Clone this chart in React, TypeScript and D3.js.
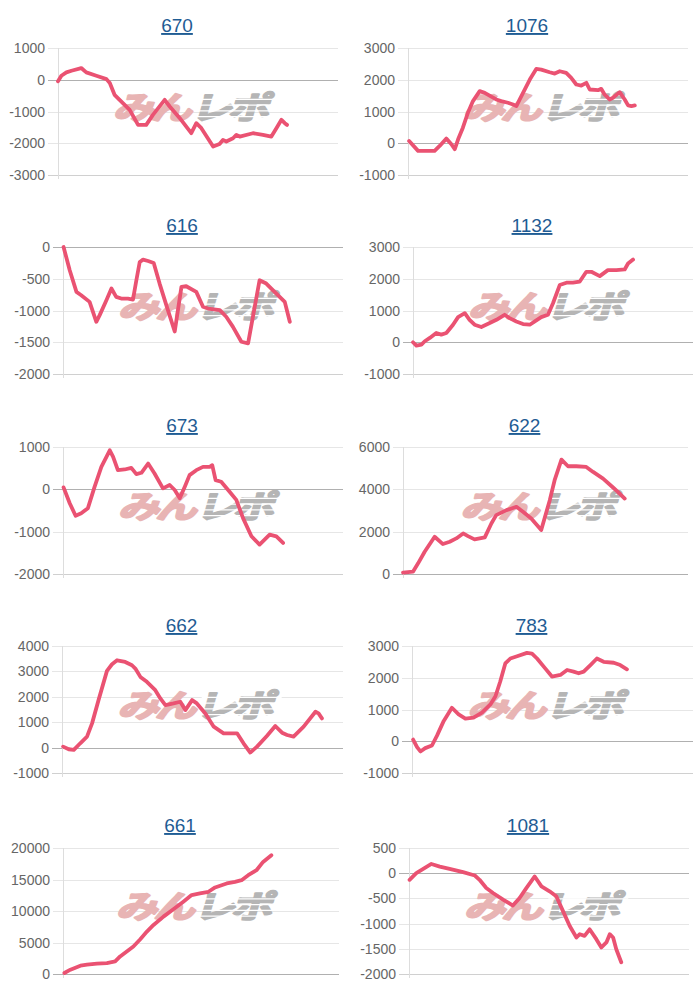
import React from 'react';
import * as d3 from 'd3';

// ---- data ----
const titles = ['670', '1076', '616', '1132', '673', '622', '662', '783', '661', '1081'];

const x670 = [0, 1.2, 3.0, 4.8, 8.3, 10.1, 13.7, 17.3, 18.5, 20.2, 22.0, 25.6, 28.6, 31.5, 33.9, 38.1, 39.9, 43.5, 47.6, 49.4, 51.2, 55.4, 57.7, 58.9, 60.1, 62.5, 63.7, 64.9, 69.6, 73.2, 76.2, 78.0, 79.8, 81.0, 81.8];
const v670 = [-50, 126, 232, 284, 368, 232, 126, 20, -105, -474, -632, -947, -1421, -1421, -1105, -632, -842, -1210, -1684, -1368, -1526, -2105, -2021, -1895, -1947, -1842, -1737, -1789, -1684, -1737, -1789, -1526, -1263, -1368, -1421];

const x1076 = [0.4, 3.6, 9.5, 11.3, 13.7, 15.5, 16.7, 17.9, 19.6, 21.4, 23.2, 25.6, 27.4, 31.5, 33.3, 35.7, 37.5, 38.7, 39.9, 43.5, 45.8, 47.6, 50.6, 52.4, 54.2, 56.5, 58.3, 60.1, 61.9, 63.7, 64.9, 67.9, 69.0, 70.2, 72.0, 73.2, 75.6, 77.4, 78.6, 79.8, 81.0];
const v1076 = [73, -240, -240, -84, 146, -31, -188, 125, 491, 961, 1327, 1641, 1588, 1379, 1327, 1275, 1222, 1170, 1379, 2006, 2341, 2320, 2236, 2194, 2268, 2215, 2059, 1850, 1818, 1902, 1693, 1672, 1714, 1536, 1379, 1432, 1609, 1379, 1191, 1170, 1191];

const x616 = [0.2, 2.4, 4.8, 6.5, 9.5, 11.9, 13.1, 15.5, 17.3, 19.0, 20.8, 23.2, 25.0, 26.2, 27.4, 28.6, 30.4, 32.4, 34.5, 36.9, 39.9, 42.3, 44.0, 47.6, 50.0, 51.8, 56.0, 58.3, 60.7, 63.7, 66.1, 70.2, 72.6, 76.2, 79.2, 81.0];
const v616 = [0, -366, -707, -759, -864, -1178, -1073, -838, -654, -785, -812, -812, -827, -524, -236, -199, -220, -251, -576, -916, -1330, -628, -618, -707, -942, -969, -995, -1099, -1257, -1492, -1518, -524, -576, -733, -864, -1178];

const x1132 = [0, 1.2, 3.0, 4.2, 6.0, 8.3, 10.1, 11.9, 14.3, 16.1, 18.5, 20.2, 22.0, 24.4, 27.4, 29.8, 32.7, 34.5, 36.9, 39.3, 41.7, 43.5, 45.8, 48.2, 50.0, 52.4, 54.8, 57.1, 59.5, 61.9, 63.7, 66.7, 69.6, 72.6, 75.6, 76.8, 78.6];
const v1132 = [0, -104, -73, 31, 135, 292, 240, 292, 552, 792, 917, 708, 552, 479, 604, 708, 865, 760, 656, 573, 552, 656, 792, 865, 1229, 1802, 1875, 1875, 1906, 2219, 2219, 2083, 2271, 2271, 2292, 2479, 2604];

const x673 = [0.2, 2.4, 4.5, 6.5, 8.9, 11.3, 13.7, 16.7, 17.9, 19.6, 22.0, 24.4, 26.2, 28.0, 30.4, 32.7, 35.7, 38.1, 39.9, 41.7, 43.5, 45.2, 47.6, 50.0, 52.4, 53.3, 54.5, 56.5, 59.5, 61.9, 64.3, 67.3, 70.2, 72.0, 73.8, 76.2, 78.6];
const v673 = [47, -328, -625, -563, -445, 63, 531, 922, 766, 453, 469, 508, 359, 391, 609, 375, 23, 102, -16, -211, 63, 336, 453, 531, 531, 570, 219, 180, -55, -250, -680, -1109, -1305, -1188, -1070, -1109, -1266];

const x622 = [0, 3.5, 5.3, 7.6, 11.1, 14.0, 16.4, 18.7, 21.1, 22.8, 25.1, 28.7, 31.0, 32.7, 36.3, 39.8, 42.1, 45.0, 48.5, 51.5, 53.2, 55.6, 57.9, 60.8, 64.3, 66.7, 70.2, 73.7, 75.4, 77.8];
const v622 = [63, 110, 503, 1053, 1760, 1414, 1524, 1681, 1917, 1791, 1634, 1728, 2388, 2781, 3016, 3174, 2938, 2624, 2074, 3488, 4431, 5405, 5090, 5090, 5059, 4823, 4509, 4085, 3881, 3566];

const x662 = [0.4, 2.4, 4.2, 6.5, 8.9, 10.7, 13.0, 16.0, 17.8, 19.6, 22.5, 24.9, 26.1, 27.9, 30.2, 33.2, 35.0, 36.8, 39.7, 42.1, 43.9, 46.3, 48.0, 51.0, 54.0, 57.5, 59.9, 62.3, 64.6, 67.0, 69.4, 72.9, 75.9, 78.3, 80.1, 82.4, 86.0, 90.2, 91.3, 92.5];
const v662 = [39, -65, -92, 170, 431, 954, 1869, 3020, 3281, 3438, 3373, 3242, 3111, 2784, 2588, 2261, 1935, 1673, 1739, 1804, 1477, 1869, 1739, 1346, 824, 562, 562, 562, 170, -196, 39, 458, 850, 588, 497, 431, 824, 1412, 1346, 1150];

const x783 = [0.4, 1.8, 3.0, 4.7, 7.1, 8.9, 11.3, 14.2, 16.6, 19.0, 21.9, 24.9, 27.9, 29.7, 31.4, 33.2, 35.0, 37.4, 40.9, 42.7, 44.5, 47.4, 49.8, 52.8, 55.2, 57.5, 59.3, 61.1, 63.5, 65.8, 68.2, 71.8, 74.1, 76.5];
const v783 = [52, -186, -321, -217, -134, 176, 641, 1055, 848, 714, 745, 900, 1158, 1417, 1882, 2451, 2606, 2678, 2782, 2761, 2606, 2296, 2037, 2089, 2244, 2192, 2141, 2192, 2399, 2606, 2503, 2472, 2399, 2265];

const x661 = [0.5, 2.7, 6.3, 8.7, 12.3, 15.9, 18.9, 20.7, 23.1, 25.5, 28.0, 30.4, 32.8, 36.4, 40.0, 43.6, 46.6, 49.6, 52.7, 55.1, 59.3, 62.3, 64.7, 67.1, 70.1, 72.5, 75.5];
const v661 = [158, 684, 1316, 1474, 1632, 1737, 2000, 2789, 3579, 4368, 5526, 6737, 7789, 9105, 10263, 11474, 12526, 12789, 13053, 13737, 14368, 14632, 14895, 15684, 16474, 17789, 18842];

const x1081 = [0.2, 2.6, 8.0, 11.0, 14.5, 19.3, 23.5, 25.2, 27.6, 30.0, 33.6, 37.1, 39.5, 41.9, 44.9, 47.3, 50.2, 52.6, 55.0, 57.4, 59.8, 61.0, 62.7, 64.5, 66.9, 68.7, 70.5, 71.7, 72.9, 74.0, 75.8];
const v1081 = [-131, 0, 183, 131, 85, 20, -46, -131, -295, -393, -524, -641, -491, -295, -65, -262, -360, -458, -753, -1047, -1276, -1211, -1243, -1113, -1309, -1473, -1374, -1211, -1276, -1505, -1767];

const seriesX = [x670, x1076, x616, x1132, x673, x622, x662, x783, x661, x1081];
const seriesV = [v670, v1076, v616, v1132, v673, v622, v662, v783, v661, v1081];

const yMin = [-3000, -1000, -2000, -1000, -2000, 0, -1000, -1000, 0, -2000];
const yMax = [1000, 3000, 0, 3000, 1000, 6000, 4000, 3000, 20000, 500];
const yStep = [1000, 1000, 500, 1000, 1000, 2000, 1000, 1000, 5000, 500];

// ---- layout ----
const W = 700;
const H = 1000;
const panelW = 350;
const panelH = 200;
const plotLeft = [58, 58, 63, 63, 63, 53, 62, 62, 63, 59];
const plotRight = [338, 338, 343, 343, 343, 338, 343, 343, 339, 339];
const rowTop = [48, 47, 47, 46, 48];
const rowBottom = [175, 174, 174, 173, 174];

const LINE_COLOR = '#ea5272';
const FONT = '"Liberation Sans", Arial, sans-serif';
const WM_FONT = '"Noto Sans CJK JP", sans-serif';

function Watermark({ cx, cy }: { cx: number; cy: number }) {
  return (
    <g transform={`translate(${cx},${cy}) skewX(-16) scale(1.25,0.95)`}>
      <text
        x={-1}
        y={0}
        textAnchor="end"
        dominantBaseline="central"
        fontFamily={WM_FONT}
        fontWeight={700}
        fontSize={33}
        letterSpacing={-3}
        fill="#e8b4b4"
        stroke="#e8b4b4"
        strokeWidth={2.2}
        strokeLinejoin="round"
      >
        みん
      </text>
      <text
        x={1}
        y={0}
        textAnchor="start"
        dominantBaseline="central"
        fontFamily={WM_FONT}
        fontWeight={700}
        fontSize={33}
        letterSpacing={-3}
        fill="#b5b5b5"
        stroke="#b5b5b5"
        strokeWidth={2.2}
        strokeLinejoin="round"
      >
        レポ
      </text>
      {[-7, -1, 5, 11].map((dy) => (
        <rect key={dy} x={2} y={dy} width={64} height={1.3} fill="#ffffff" />
      ))}
    </g>
  );
}

function Panel({ i }: { i: number }) {
  const col = i % 2;
  const row = Math.floor(i / 2);
  const ox = col * panelW;
  const oy = row * panelH;
  const left = plotLeft[i];
  const right = plotRight[i];
  const top = rowTop[row];
  const bottom = rowBottom[row];

  const x = d3.scaleLinear().domain([0, 100]).range([left, right]);
  const y = d3.scaleLinear().domain([yMin[i], yMax[i]]).range([bottom, top]);
  const ticks = d3.range(yMin[i], yMax[i] + yStep[i] / 2, yStep[i]);

  const pts = seriesX[i].map((t, k) => [t, seriesV[i][k]] as [number, number]);
  const line = d3
    .line<[number, number]>()
    .x((d) => x(d[0]))
    .y((d) => y(d[1]));

  const cx = (left + right) / 2;
  const cy = (top + bottom) / 2;

  return (
    <g transform={`translate(${ox},${oy})`}>
      <text
        x={cx - 21}
        y={32}
        textAnchor="middle"
        fontFamily={FONT}
        fontSize={19}
        fill="#1f5c94"
        style={{ textDecoration: 'underline' }}
      >
        {titles[i]}
      </text>
      {ticks.map((t) => (
        <g key={t}>
          <line
            x1={left - 10}
            x2={right}
            y1={Math.round(y(t)) + 0.5}
            y2={Math.round(y(t)) + 0.5}
            stroke={t === 0 ? '#b0b0b0' : t === yMin[i] ? '#d0d0d0' : '#e6e6e6'}
            strokeWidth={1}
          />
          <text
            x={left - 13}
            y={y(t)}
            textAnchor="end"
            dominantBaseline="central"
            fontFamily={FONT}
            fontSize={14}
            fill="#666666"
          >
            {t}
          </text>
        </g>
      ))}
      <line
        x1={left + 0.5}
        x2={left + 0.5}
        y1={top}
        y2={bottom + 4}
        stroke="#dddddd"
        strokeWidth={1}
      />
      <Watermark cx={cx - 5} cy={cy - 6} />
      <path
        d={line(pts) || ''}
        fill="none"
        stroke={LINE_COLOR}
        strokeWidth={3.8}
        strokeLinejoin="round"
        strokeLinecap="round"
      />
    </g>
  );
}

export default function App() {
  return (
    <svg
      width={W}
      height={H}
      viewBox={`0 0 ${W} ${H}`}
      style={{ position: 'absolute', left: 0, top: 0, background: '#ffffff' }}
    >
      <rect x={0} y={0} width={W} height={H} fill="#ffffff" />
      {titles.map((_, i) => (
        <Panel key={i} i={i} />
      ))}
    </svg>
  );
}
